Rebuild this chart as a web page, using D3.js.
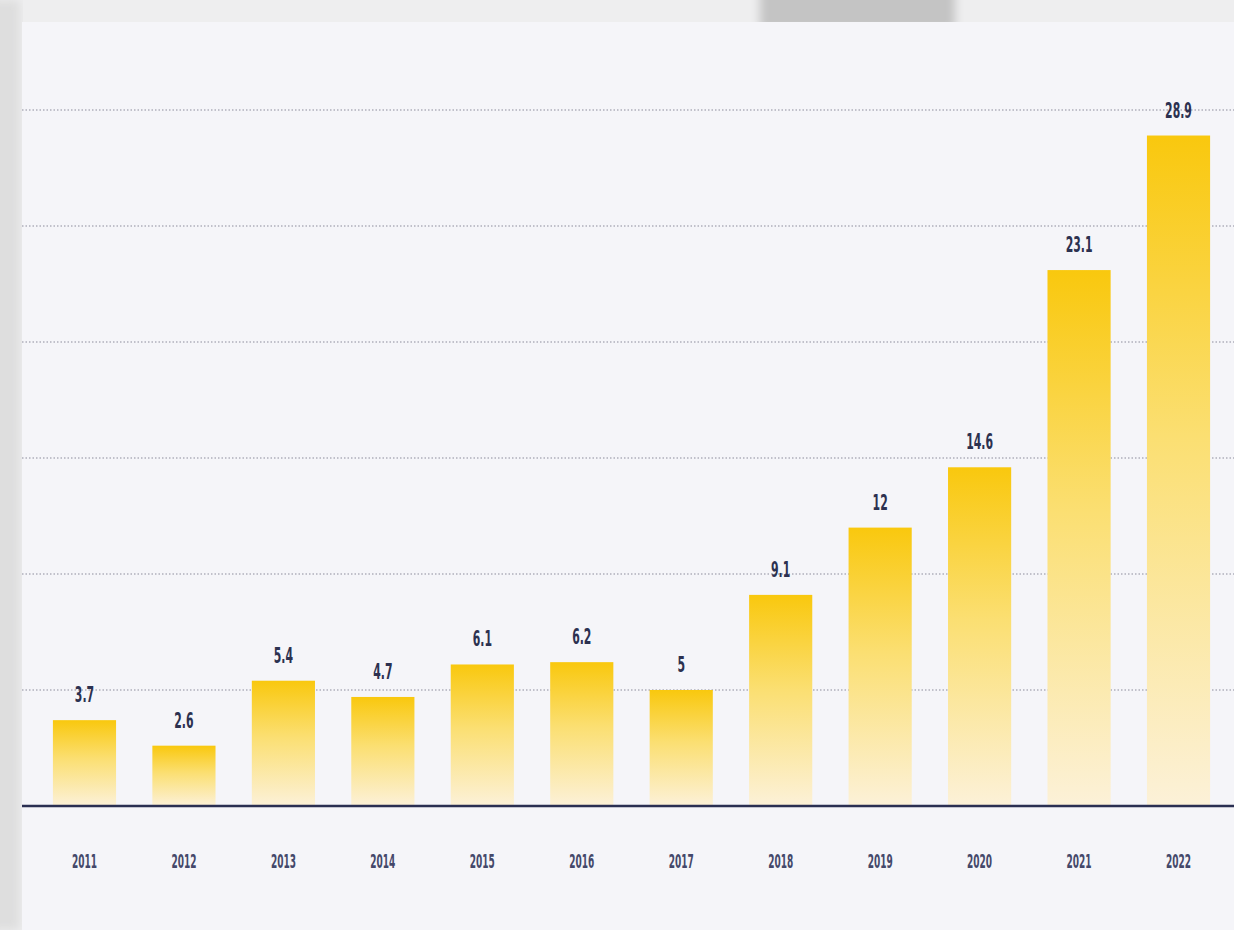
<!DOCTYPE html>
<html>
<head>
<meta charset="utf-8">
<script src="https://cdn.jsdelivr.net/npm/d3@7"></script>
<style>
  html, body { margin: 0; padding: 0; background: #e9e9eb; }
  svg { display: block; }
</style>
</head>
<body>
<div id="chart"></div>
<script>
// data
const years = ['2011', '2012', '2013', '2014', '2015', '2016', '2017', '2018', '2019', '2020', '2021', '2022'];
const values = [3.7, 2.6, 5.4, 4.7, 6.1, 6.2, 5, 9.1, 12, 14.6, 23.1, 28.9];
const gridTicks = [5, 10, 15, 20, 25, 30];

const width = 1234;
const height = 930;
const baseY = 806;

const svg = d3.select('#chart').append('svg')
  .attr('width', width)
  .attr('height', height);

const defs = svg.append('defs');

const grad = defs.append('linearGradient')
  .attr('id', 'barGrad')
  .attr('x1', 0).attr('y1', 0).attr('x2', 0).attr('y2', 1);
grad.append('stop').attr('offset', '0%').attr('stop-color', '#f9c80e');
grad.append('stop').attr('offset', '45%').attr('stop-color', '#fbdf72');
grad.append('stop').attr('offset', '100%').attr('stop-color', '#fcf1d8');

defs.append('filter').attr('id', 'blur')
  .append('feGaussianBlur').attr('stdDeviation', 5);

// backdrop: blurred paper on the left, grey blob on top
svg.append('rect')
  .attr('x', 0).attr('y', 0).attr('width', width).attr('height', height)
  .attr('fill', '#eeeeef');
svg.append('rect')
  .attr('x', 760).attr('y', -20).attr('width', 195).attr('height', 50)
  .attr('fill', '#c4c4c4')
  .attr('filter', 'url(#blur)');
svg.append('rect')
  .attr('x', -10).attr('y', 0).attr('width', 30).attr('height', height)
  .attr('fill', '#dedede')
  .attr('filter', 'url(#blur)');

// card
svg.append('rect')
  .attr('x', 22).attr('y', 22).attr('width', width - 22).attr('height', height - 22)
  .attr('fill', '#f5f5f9');

const x = d3.scaleBand()
  .domain(years)
  .range([35, 1228])
  .paddingInner(0.365)
  .paddingOuter(0.18);

const y = d3.scaleLinear()
  .domain([0, 30])
  .range([baseY, 110]);

// dotted gridlines
svg.append('g')
  .selectAll('line')
  .data(gridTicks)
  .enter().append('line')
  .attr('x1', 22)
  .attr('x2', width)
  .attr('y1', d => y(d))
  .attr('y2', d => y(d))
  .attr('stroke', '#8c8c9c')
  .attr('stroke-width', 1.2)
  .attr('stroke-dasharray', '1.5,2');

// bars
svg.append('g')
  .selectAll('rect')
  .data(values)
  .enter().append('rect')
  .attr('x', (d, i) => x(years[i]))
  .attr('y', d => y(d))
  .attr('width', x.bandwidth())
  .attr('height', d => baseY - y(d))
  .attr('fill', 'url(#barGrad)');

// value labels
svg.append('g')
  .selectAll('text')
  .data(values)
  .enter().append('text')
  .attr('transform', (d, i) => `translate(${x(years[i]) + x.bandwidth() / 2},${y(d) - 18}) scale(0.55,1)`)
  .attr('text-anchor', 'middle')
  .attr('font-family', 'DejaVu Sans Condensed, DejaVu Sans, sans-serif')
  .attr('font-weight', 'bold')
  .attr('font-size', 22)
  .attr('fill', '#2c3150')
  .text(d => d);

// baseline
svg.append('line')
  .attr('x1', 22).attr('x2', width)
  .attr('y1', baseY).attr('y2', baseY)
  .attr('stroke', '#2a2f52')
  .attr('stroke-width', 2.5);

// year axis
const xAxis = svg.append('g')
  .attr('transform', `translate(0,${baseY})`)
  .call(d3.axisBottom(x).tickSize(0).tickPadding(0));
xAxis.select('.domain').remove();
xAxis.selectAll('.tick text')
  .attr('y', 0)
  .attr('dy', 0)
  .attr('transform', 'translate(0,62) scale(0.5,1)')
  .attr('font-family', 'DejaVu Sans Condensed, DejaVu Sans, sans-serif')
  .attr('font-weight', 'bold')
  .attr('font-size', 20)
  .attr('fill', '#44486a');
</script>
</body>
</html>
